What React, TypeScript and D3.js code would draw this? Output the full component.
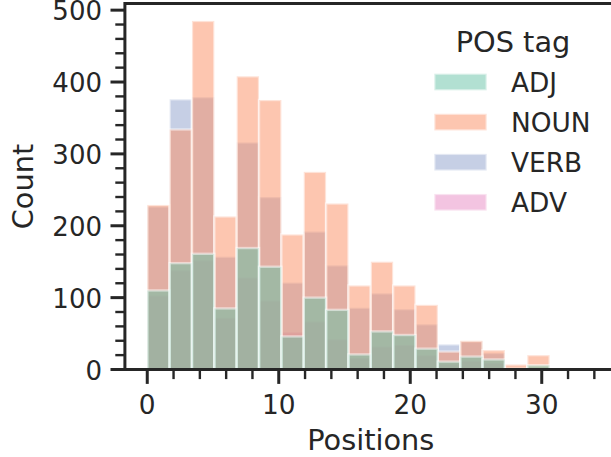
import React from 'react';
import * as d3 from 'd3';

// histogram counts per bin (bin width 1.7, starting at 0)
const binWidth = 1.7;
const tags = ['ADJ', 'NOUN', 'VERB', 'ADV'];
const colors = ['#66c2a5', '#fc8d62', '#8da0cb', '#e78ac3'];

const adjCounts = [110, 148, 161, 85, 169, 143, 46, 100, 83, 21, 53, 48, 29, 11, 18, 14, 1, 6, 0, 0];
const nounCounts = [229, 334, 485, 213, 408, 375, 188, 275, 231, 117, 150, 117, 90, 25, 40, 27, 7, 20, 0, 0];
const verbCounts = [227, 376, 379, 157, 316, 240, 121, 192, 145, 86, 106, 84, 63, 35, 39, 23, 1, 2, 0, 0];
const advCounts = [103, 138, 152, 72, 128, 96, 52, 67, 42, 16, 32, 34, 20, 8, 12, 9, 1, 2, 0, 1];

const xMajorTicks = [0, 10, 20, 30];
const yMajorTicks = [0, 100, 200, 300, 400, 500];

const W = 611;
const H = 457;
const ink = '#262626';
const font = 'DejaVu Sans';

const App: React.FC = () => {
  const series = [adjCounts, nounCounts, verbCounts, advCounts];
  const nBins = adjCounts.length;
  const xMax = nBins * binWidth;
  const pad = xMax * 0.05;
  const yMax = (d3.max(series.flat()) || 0) * 1.05;

  const left = 124.9;
  const right = 616.7;
  const top = 3.5;
  const bottom = 369.5;

  const x = d3.scaleLinear().domain([-pad, xMax + pad]).range([left, right]);
  const y = d3.scaleLinear().domain([0, yMax]).range([bottom, top]);

  const xMinor = d3.range(0, xMax + pad, 2).filter(v => !xMajorTicks.includes(v));
  const yMinor = d3.range(0, yMax, 20).filter(v => !yMajorTicks.includes(v));

  // seaborn draws the first hue level last (on top)
  const drawOrder = [3, 2, 1, 0];

  return (
    <svg width={W} height={H} style={{ position: 'absolute', left: 0, top: 0, background: '#fff' }}
      fontFamily={font}>
      <defs>
        <clipPath id="plot">
          <rect x={left} y={0} width={W - left} height={bottom + 2} />
        </clipPath>
      </defs>
      <g clipPath="url(#plot)">
        {drawOrder.map(si => (
          <g key={tags[si]}>
            {series[si].map((c, i) => c > 0 && (
              <rect key={i}
                x={x(i * binWidth)}
                y={y(c)}
                width={x((i + 1) * binWidth) - x(i * binWidth)}
                height={y(0) - y(c)}
                fill={colors[si]} fillOpacity={0.5}
                stroke="#fff" strokeOpacity={0.5} strokeWidth={2.4} />
            ))}
          </g>
        ))}
      </g>

      {/* spines */}
      <line x1={left} x2={W} y1={top} y2={top} stroke={ink} strokeWidth={3} />
      <line x1={left} x2={W} y1={bottom} y2={bottom} stroke={ink} strokeWidth={3} />
      <line x1={left} x2={left} y1={top - 1.5} y2={bottom + 1.5} stroke={ink} strokeWidth={3} />

      {/* x ticks */}
      {xMajorTicks.map(t => (
        <g key={'xm' + t}>
          <line x1={x(t)} x2={x(t)} y1={bottom} y2={bottom + 14.4} stroke={ink} strokeWidth={3} />
          <text x={x(t)} y={413.5} textAnchor="middle" fontSize={26.4} fill={ink}>{t}</text>
        </g>
      ))}
      {xMinor.map(t => (
        <line key={'xn' + t} x1={x(t)} x2={x(t)} y1={bottom} y2={bottom + 9.6} stroke={ink} strokeWidth={2.4} />
      ))}

      {/* y ticks */}
      {yMajorTicks.map(t => (
        <g key={'ym' + t}>
          <line x1={left - 14.4} x2={left} y1={y(t)} y2={y(t)} stroke={ink} strokeWidth={3} />
          <text x={102} y={y(t) + 10} textAnchor="end" fontSize={26} fill={ink}>{t}</text>
        </g>
      ))}
      {yMinor.map(t => (
        <line key={'yn' + t} x1={left - 9.6} x2={left} y1={y(t)} y2={y(t)} stroke={ink} strokeWidth={2.4} />
      ))}

      {/* axis labels */}
      <text x={(left + right) / 2} y={450} textAnchor="middle" fontSize={28.8} fill={ink}>Positions</text>
      <text transform={`translate(33, ${(top + bottom) / 2}) rotate(-90)`} textAnchor="middle"
        fontSize={28.8} fill={ink}>Count</text>

      {/* legend */}
      <text x={513} y={52} textAnchor="middle" fontSize={28.8} fill={ink}>POS tag</text>
      {tags.map((tag, i) => {
        const cy = 82 + i * 40.1;
        return (
          <g key={tag}>
            <rect x={434.3} y={cy - 8.35} width={52.4} height={16.7}
              fill={colors[i]} fillOpacity={0.5} stroke="#fff" strokeOpacity={0.5} strokeWidth={2.4} />
            <text x={511} y={cy + 9.6} fontSize={26.4} fill={ink}>{tag}</text>
          </g>
        );
      })}
    </svg>
  );
};

export default App;
